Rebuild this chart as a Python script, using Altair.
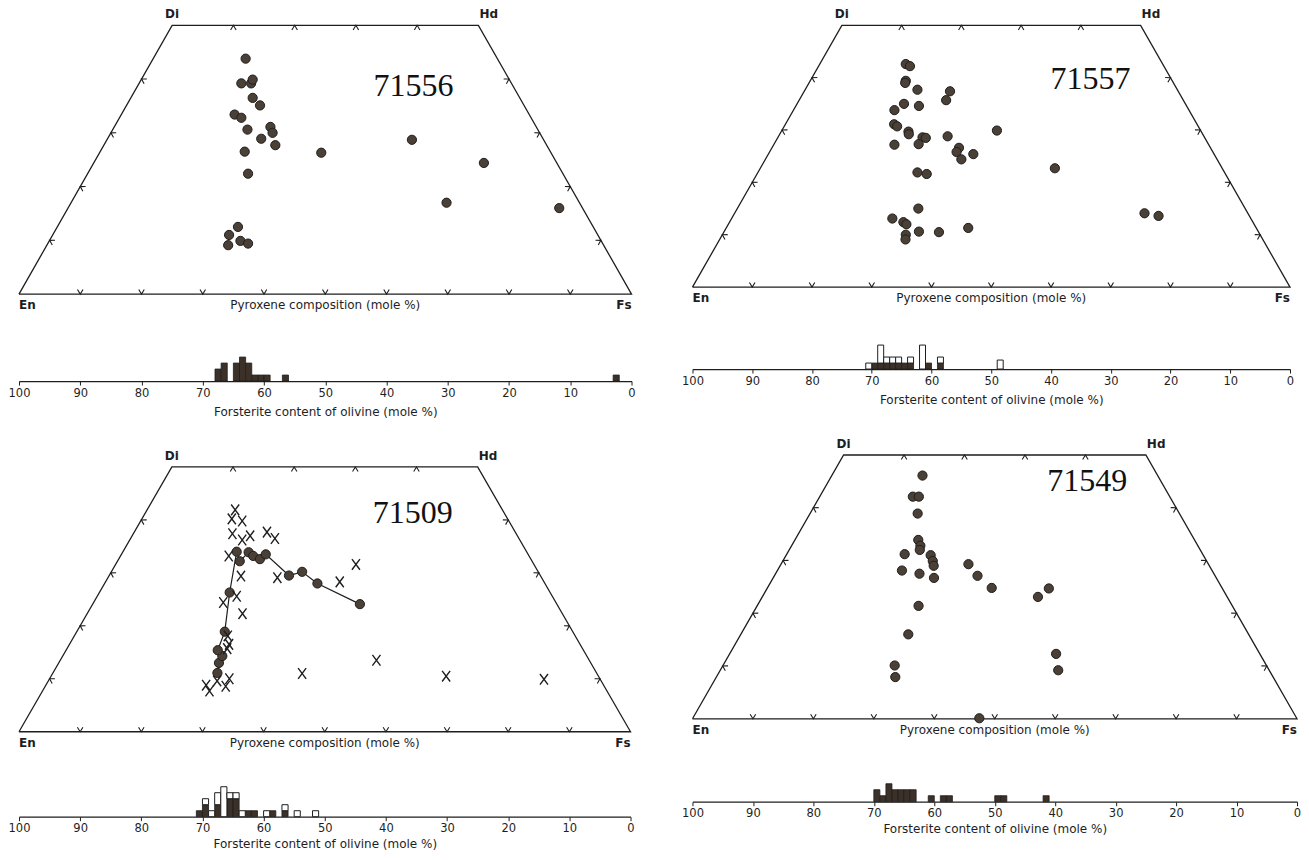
import math
import altair as alt
import pandas as pd

# ---------------- pyroxene compositions (Wo, Fs in mole %) ----------------
# 71556
p1_wo = [43.8, 39.2, 39.2, 39.9, 36.5, 35.1, 33.4, 32.8, 30.6, 31.1, 30.0, 28.9, 27.7,
         26.5, 26.3, 28.7, 22.4, 24.4, 17.0, 16.0, 12.5, 11.0, 9.9, 9.4, 9.1]
p1_fs = [15.1, 16.7, 18.3, 18.2, 19.9, 21.8, 18.5, 19.9, 22.0, 25.5, 26.4, 25.1, 28.0,
         23.6, 36.2, 49.8, 26.2, 63.7, 61.3, 80.2, 29.5, 28.8, 31.2, 32.7, 29.6]

# 71557
p2_wo = [42.6, 42.2, 39.4, 39.0, 37.7, 37.4, 35.7, 35.0, 34.6, 33.8, 31.1, 30.7, 29.7,
         29.2, 28.6, 28.5, 27.3, 28.8, 27.2, 29.9, 26.6, 25.8, 24.4, 25.4, 21.9, 21.6,
         22.7, 15.0, 13.1, 12.4, 12.0, 10.0, 9.1, 10.6, 10.5, 11.3, 14.1, 13.6]
p2_fs = [14.4, 15.3, 16.0, 16.1, 18.8, 24.4, 24.6, 17.9, 20.6, 16.9, 18.2, 18.9, 21.3,
         21.6, 24.2, 24.8, 24.2, 28.3, 20.2, 36.0, 31.3, 31.3, 32.8, 34.3, 26.7, 28.4,
         49.3, 30.3, 26.9, 29.1, 29.8, 30.7, 31.1, 32.6, 36.0, 40.5, 68.6, 71.2]

# 71509 : connected trend (circles) and crosses
p3_trend_wo = [11.1, 13.0, 14.3, 15.4, 18.9, 26.3, 34.0, 32.2, 33.9, 33.2, 32.6, 33.5,
               29.5, 30.2, 28.0, 24.1]
p3_trend_fs = [26.9, 26.2, 26.1, 24.8, 24.2, 21.3, 18.6, 20.0, 20.6, 21.7, 23.1, 23.6,
               29.4, 31.2, 34.8, 43.7]
p3_x_wo = [41.9, 40.2, 39.8, 37.4, 36.2, 37.0, 37.7, 36.5, 33.2, 29.4, 29.1, 31.6, 28.3,
           25.6, 24.4, 22.3, 18.1, 16.5, 15.7, 13.5, 11.0, 10.5, 9.9, 10.0, 9.6, 8.6, 8.8, 7.7]
p3_x_fs = [14.4, 14.7, 16.6, 16.2, 18.4, 19.3, 21.7, 23.6, 17.7, 21.6, 27.7, 39.3, 38.3,
           22.8, 21.2, 25.4, 25.1, 26.1, 26.2, 51.7, 40.8, 64.6, 80.9, 29.4, 27.6, 29.5, 26.2, 27.3]

# 71549
p4_wo = [46.1, 42.1, 42.1, 38.9, 33.9, 32.8, 32.0, 31.2, 31.0, 29.9, 29.0, 28.1, 27.5,
         26.7, 29.3, 27.1, 24.8, 24.7, 23.1, 21.4, 16.0, 12.3, 9.2, 10.1, 7.9, 0.1]
p4_fs = [15.0, 15.4, 16.4, 17.8, 20.4, 21.3, 21.6, 19.5, 23.9, 24.8, 25.4, 20.6, 23.8,
         26.6, 31.0, 33.6, 37.1, 46.6, 45.6, 26.7, 27.7, 54.0, 55.9, 28.4, 29.6, 47.4]

# ---------------- olivine histograms (Fo bin start, counts) ----------------
p1_hist_lo = [67, 66, 64, 63, 62, 61, 60, 59, 56, 2]
p1_hist_dark = [2, 3, 3, 4, 3, 1, 1, 1, 1, 1]
p1_hist_open = [0, 0, 0, 0, 0, 0, 0, 0, 0, 0]

p2_hist_lo = [70, 69, 68, 67, 66, 65, 64, 63, 61, 60, 58, 48]
p2_hist_dark = [0, 1, 1, 1, 1, 1, 1, 1, 0, 1, 1, 0]
p2_hist_open = [1, 0, 3, 1, 1, 1, 0, 1, 4, 0, 1, 1.5]

p3_hist_lo = [70, 69, 68, 67, 66, 65, 64, 63, 62, 61, 59, 58, 56, 54, 51]
p3_hist_dark = [1, 2, 0, 2, 0, 3, 3, 0, 1, 1, 0, 1, 1, 0, 0]
p3_hist_open = [0, 1, 1, 2, 5, 1, 1, 1, 0, 0, 1, 0, 1, 1, 1]

p4_hist_lo = [69, 68, 67, 66, 65, 64, 63, 60, 58, 57, 49, 48, 41]
p4_hist_dark = [2, 1, 3, 2, 2, 2, 2, 1, 1, 1, 1, 1, 1]
p4_hist_open = [0] * 13

# ---------------- quadrilateral geometry (Wo, Fs) ----------------
FRAME_WO = [0, 50, 50, 0, 0]
FRAME_FS = [0, 0, 50, 100, 0]
SIDE_STEPS = [10, 20, 30, 40]
BASE_STEPS = [10, 20, 30, 40, 50, 60, 70, 80, 90]
FO_TICKS = list(range(0, 101, 10))

FONT = "DejaVu Sans"
INK = "#1e1e1e"
DOT_FILL = "#4a4036"
BAR_FILL = "#3b3128"
UNIT_PX = 6.0
CHEVRON = "M-0.6,-1L0,0L0.6,-1"
XMARK = "M-0.75,-1L0.75,1M0.75,-1L-0.75,1"


def fo_axis(title_pad):
    # olivine Fo axis (x = 100 - Fo on the shared scale), identical on every layer
    return alt.Axis(values=FO_TICKS, labelExpr="100 - datum.value",
                    title="Forsterite content of olivine (mole %)",
                    grid=False, domainColor=INK, domainWidth=1.2,
                    tickColor=INK, tickSize=4, tickWidth=1, labelFont=FONT,
                    labelFontSize=11.5, labelColor=INK, labelPadding=2, labelFlush=False,
                    labelOverlap=False, titleFont=FONT, titleFontSize=12,
                    titleFontWeight="normal", titleColor=INK, titlePadding=title_pad)


def to_df(wo, fs):
    d = pd.DataFrame({"wo": wo, "fs": fs})
    d["x"] = d["fs"] + d["wo"] / 2.0
    d["i"] = range(len(d))
    return d


def panel(sample, W, trap_h, gap, label_x, label_wo, dots=None, trend=None, crosses=None,
          hist=None, title_pad=4):
    H = trap_h + gap
    ymin = -50.0 * gap / trap_h
    count_unit = UNIT_PX * 50.0 / trap_h      # one olivine grain, in Wo-axis units
    xs = alt.Scale(domain=[0, 100], nice=False, zero=False)
    ys = alt.Scale(domain=[ymin, 50], nice=False, zero=False)
    ax = fo_axis(title_pad)

    def enc(xf="x:Q", yf="wo:Q", **kw):
        return dict(x=alt.X(xf, scale=xs, axis=ax),
                    y=alt.Y(yf, scale=ys, axis=None), **kw)

    layers = []
    frame = to_df(FRAME_WO, FRAME_FS)
    layers.append(alt.Chart(frame).mark_line(color=INK, strokeWidth=1.3)
                  .encode(**enc(order="i:Q")))

    # chevron ticks on the four sides
    side_ang = math.degrees(math.atan2(trap_h, 0.25 * W))
    t_wo, t_fs, t_ang = [], [], []
    for s in BASE_STEPS:
        t_wo.append(0); t_fs.append(s); t_ang.append(0)
    for s in SIDE_STEPS:
        t_wo.append(50); t_fs.append(s); t_ang.append(180)
        t_wo.append(s); t_fs.append(0); t_ang.append(180 - side_ang)
        t_wo.append(s); t_fs.append(100 - s); t_ang.append(180 + side_ang)
    ticks = to_df(t_wo, t_fs)
    ticks["angle"] = t_ang
    layers.append(alt.Chart(ticks).mark_point(shape=CHEVRON, filled=False, stroke=INK,
                                               strokeWidth=1.1, size=85, opacity=1)
                  .encode(**enc(angle=alt.Angle("angle:Q", scale=None))))

    # corner labels
    corners = [("Di", 50, 0, "center", "bottom", 0, -4),
               ("Hd", 50, 50, "left", "bottom", 1, -4),
               ("En", 0, 0, "left", "top", 0, 6),
               ("Fs", 0, 100, "right", "top", 0, 6)]
    for name, wo, fs, al, bl, dx, dy in corners:
        d = to_df([wo], [fs])
        d["name"] = name
        layers.append(alt.Chart(d).mark_text(font=FONT, fontSize=12, fontWeight="bold",
                                             color=INK, align=al, baseline=bl, dx=dx, dy=dy)
                      .encode(**enc(text="name:N")))
    cap = to_df([0], [50])
    cap["t"] = "Pyroxene composition (mole %)"
    layers.append(alt.Chart(cap).mark_text(font=FONT, fontSize=12, color=INK, align="center",
                                           baseline="top", dy=6)
                  .encode(**enc(text="t:N")))
    lab = pd.DataFrame({"x": [label_x], "wo": [label_wo], "t": [sample]})
    layers.append(alt.Chart(lab).mark_text(font="Liberation Serif", fontSize=32, color="#111",
                                           align="center", baseline="middle")
                  .encode(**enc(text="t:N")))

    if trend is not None:
        td = to_df(*trend)
        layers.append(alt.Chart(td).mark_line(color=INK, strokeWidth=1.2)
                      .encode(**enc(order="i:Q")))
        layers.append(alt.Chart(td).mark_point(filled=True, fill=DOT_FILL, stroke=INK,
                                               strokeWidth=1, size=85, opacity=1)
                      .encode(**enc()))
    if crosses is not None:
        cd = to_df(*crosses)
        layers.append(alt.Chart(cd).mark_point(shape=XMARK, filled=False, stroke=INK,
                                               strokeWidth=1.4, size=115, opacity=1)
                      .encode(**enc()))
    if dots is not None:
        dd = to_df(*dots)
        layers.append(alt.Chart(dd).mark_point(filled=True, fill=DOT_FILL, stroke=INK,
                                               strokeWidth=1, size=85, opacity=1)
                      .encode(**enc()))

    # histogram of olivine Fo, drawn on the same scales (x = 100 - Fo)
    lo, dark, opn = hist
    hd = pd.DataFrame({"lo": lo, "dark": dark, "open": opn})
    hd["xa"] = 100 - (hd["lo"] + 1)
    hd["xb"] = 100 - hd["lo"]
    hd["d0"] = ymin
    hd["d1"] = ymin + hd["dark"] * count_unit
    hd["o1"] = hd["d1"] + hd["open"] * count_unit
    layers.append(alt.Chart(hd).mark_rect(fill=BAR_FILL, stroke=INK, strokeWidth=0.8)
                  .transform_filter("datum.dark > 0")
                  .encode(**enc(xf="xa:Q", yf="d0:Q", x2="xb:Q", y2="d1:Q")))
    layers.append(alt.Chart(hd).mark_rect(fill="white", stroke=INK, strokeWidth=1.0)
                  .transform_filter("datum.open > 0")
                  .encode(**enc(xf="xa:Q", yf="d1:Q", x2="xb:Q", y2="o1:Q")))

    return alt.layer(*layers).properties(width=W, height=H)


c1 = panel("71556", 613, 269, 87, 64.4, 38.7, dots=(p1_wo, p1_fs),
           hist=(p1_hist_lo, p1_hist_dark, p1_hist_open), title_pad=8)
c2 = panel("71557", 598, 262, 82, 66.6, 39.7, dots=(p2_wo, p2_fs),
           hist=(p2_hist_lo, p2_hist_dark, p2_hist_open), title_pad=8)
c3 = panel("71509", 612, 265, 85, 64.4, 41.3, trend=(p3_trend_wo, p3_trend_fs),
           crosses=(p3_x_wo, p3_x_fs), hist=(p3_hist_lo, p3_hist_dark, p3_hist_open))
c4 = panel("71549", 605, 264, 83, 65.3, 45.1, dots=(p4_wo, p4_fs),
           hist=(p4_hist_lo, p4_hist_dark, p4_hist_open))

chart = (alt.hconcat(alt.vconcat(c1, c3, spacing=32), alt.vconcat(c2, c4, spacing=32),
                     spacing=46)
         .properties(padding=0)
         .configure(background="white")
         .configure_view(stroke=None))

chart.save("out.html", embed_options={"renderer": "svg", "actions": False})
